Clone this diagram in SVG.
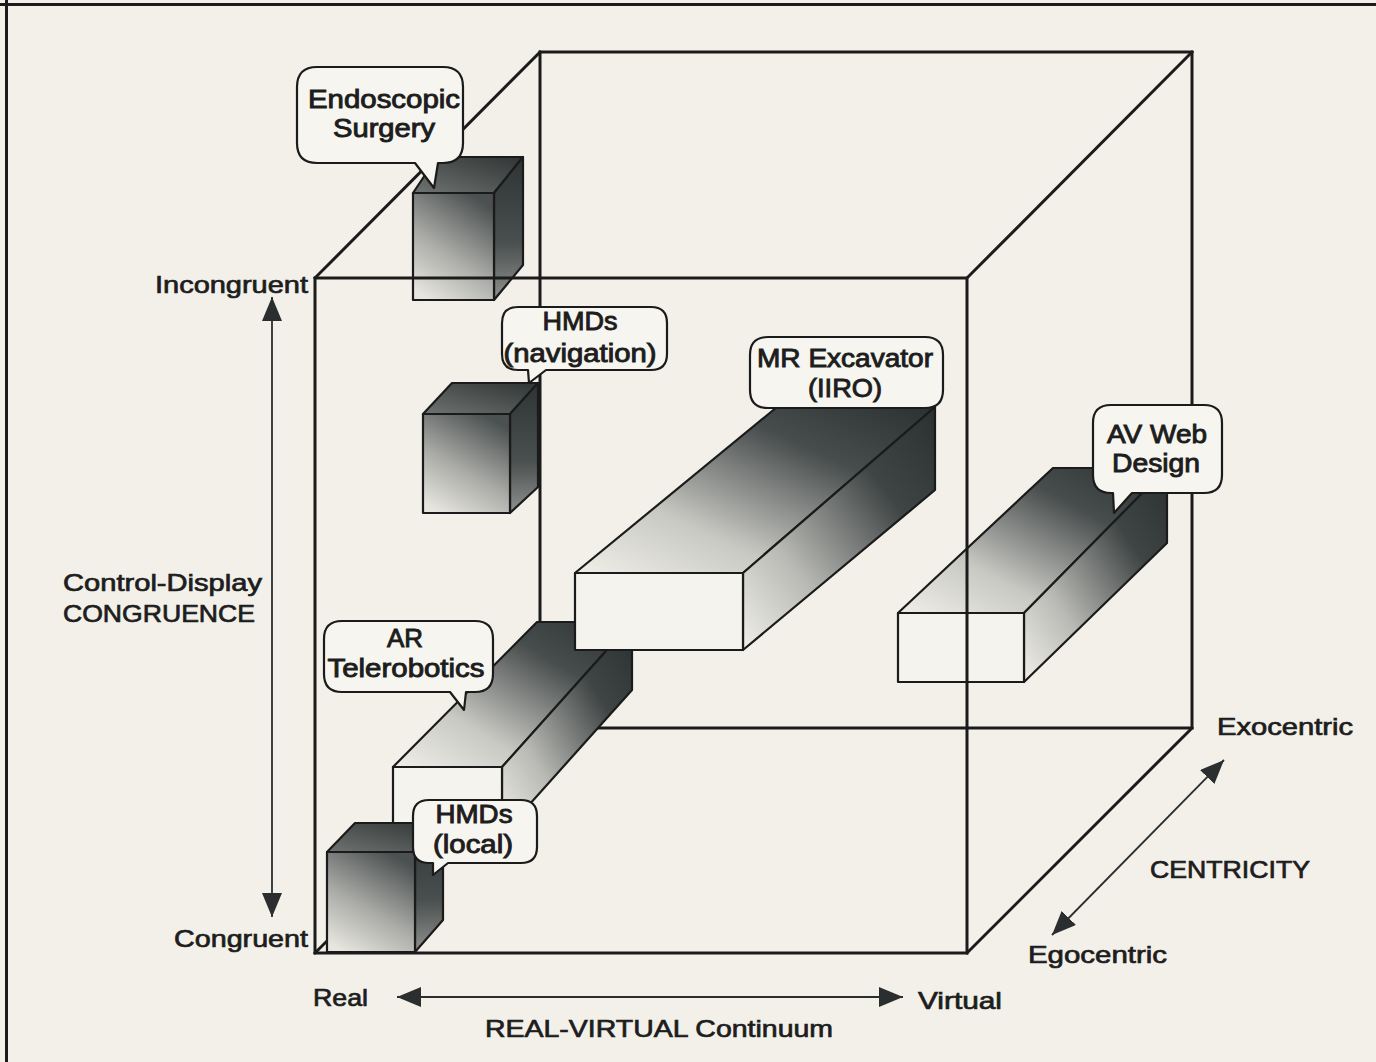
<svg xmlns="http://www.w3.org/2000/svg" width="1376" height="1062" viewBox="0 0 1376 1062">
<style>
.edge{fill:none;stroke:#1b1b1b;stroke-width:3;stroke-linecap:square}
.box{stroke:#1b1b1b;stroke-width:2.2;stroke-linejoin:round}
.bub{fill:#f6f5ef;stroke:#1b1b1b;stroke-width:2.2;stroke-linejoin:round}
.lbl{font-family:"Liberation Sans",Arial,sans-serif;font-size:25px;fill:#1d1d1d;stroke:#1d1d1d;stroke-width:0.9;text-anchor:middle}
.ax{font-family:"Liberation Sans",Arial,sans-serif;font-size:24px;fill:#1d1d1d;stroke:#1d1d1d;stroke-width:0.7}
.arr{stroke:#2a2e2e;stroke-width:1.8;fill:none}
</style>
<defs>
<marker id="ah" viewBox="0 0 24 20" refX="24" refY="10" markerWidth="24" markerHeight="20" markerUnits="userSpaceOnUse" orient="auto-start-reverse">
<path d="M0,0 L24,10 L0,20 Z" fill="#2a2e2e"/>
</marker>
<linearGradient id="cubeFront" x1="0.7" y1="0" x2="0.2" y2="1">
<stop offset="0" stop-color="#4b5050"/><stop offset="0.55" stop-color="#a9aaa6"/><stop offset="1" stop-color="#e6e5de"/>
</linearGradient>
<linearGradient id="cubeTop" x1="0" y1="1" x2="1" y2="0">
<stop offset="0" stop-color="#6f7371"/><stop offset="1" stop-color="#2f3434"/>
</linearGradient>
<linearGradient id="cubeSide" x1="0" y1="0" x2="0" y2="1">
<stop offset="0" stop-color="#2e3333"/><stop offset="0.6" stop-color="#4a4f4f"/><stop offset="1" stop-color="#8f928e"/>
</linearGradient>
<linearGradient id="barTop" x1="0" y1="1" x2="1" y2="0">
<stop offset="0" stop-color="#f0efe8"/><stop offset="0.3" stop-color="#c9c9c4"/><stop offset="0.7" stop-color="#474c4c"/><stop offset="1" stop-color="#2b3030"/>
</linearGradient>
<linearGradient id="barSide" x1="0" y1="1" x2="1" y2="0">
<stop offset="0" stop-color="#f0efe8"/><stop offset="0.3" stop-color="#b9bab5"/><stop offset="0.7" stop-color="#3f4444"/><stop offset="1" stop-color="#2b3030"/>
</linearGradient>
</defs>

<rect x="0" y="0" width="1376" height="1062" fill="#f2f0e9"/>
<g id="frame">
<line x1="0" y1="4.5" x2="1376" y2="4.5" stroke="#1b1b1b" stroke-width="3"/>
<line x1="6.5" y1="0" x2="6.5" y2="1062" stroke="#1b1b1b" stroke-width="3"/>
</g>

<g id="cube-back">
<rect class="edge" x="540" y="52" width="652" height="676"/>
<line class="edge" x1="315" y1="278" x2="540" y2="52"/>
<line class="edge" x1="967" y1="278" x2="1192" y2="52"/>
<line class="edge" x1="967" y1="953" x2="1192" y2="728"/>
<line class="edge" x1="315" y1="953" x2="540" y2="728"/>
</g>

<g id="ar-telerobotics-box">
<polygon class="box" points="393,767 502,767 632,622 537,622" fill="url(#barTop)"/>
<polygon class="box" points="502,767 632,622 632,690 502,835" fill="url(#barSide)"/>
<rect class="box" x="393" y="767" width="109" height="68" fill="#f4f3ed"/>
</g>

<g id="mr-excavator-box">
<polygon class="box" points="575,573 743,573 935,407 777,407" fill="url(#barTop)"/>
<polygon class="box" points="743,573 935,407 935,490 743,650" fill="url(#barSide)"/>
<rect class="box" x="575" y="573" width="168" height="77" fill="#f4f3ed"/>
</g>

<g id="av-web-box">
<polygon class="box" points="898,613 1024,613 1167,468 1053,468" fill="url(#barTop)"/>
<polygon class="box" points="1024,613 1167,468 1167,543 1024,682" fill="url(#barSide)"/>
<rect class="box" x="898" y="613" width="126" height="69" fill="#f4f3ed"/>
</g>

<g id="endoscopic-box">
<polygon class="box" points="413,193 494,193 523,157 437,157" fill="url(#cubeTop)"/>
<polygon class="box" points="494,193 523,157 523,265 494,300" fill="url(#cubeSide)"/>
<rect class="box" x="413" y="193" width="81" height="107" fill="url(#cubeFront)"/>
</g>

<g id="hmd-navigation-box">
<polygon class="box" points="423,414 510,414 538,383 452,383" fill="url(#cubeTop)"/>
<polygon class="box" points="510,414 538,383 538,487 510,513" fill="url(#cubeSide)"/>
<rect class="box" x="423" y="414" width="87" height="99" fill="url(#cubeFront)"/>
</g>

<g id="hmd-local-box">
<polygon class="box" points="327,852 415,852 443,823 355,823" fill="url(#cubeTop)"/>
<polygon class="box" points="415,852 443,823 443,920 415,952" fill="url(#cubeSide)"/>
<rect class="box" x="327" y="852" width="88" height="100" fill="url(#cubeFront)"/>
</g>

<g id="cube-front">
<rect class="edge" x="315" y="278" width="652" height="675"/>
</g>

<g id="bubble-endoscopic">
<path class="bub" d="M317,67 H443 Q463,67 463,87 V143 Q463,163 443,163 H438 L434,188 L415,163 H317 Q297,163 297,143 V87 Q297,67 317,67 Z"/>
<text class="lbl" x="384" y="108" textLength="152" lengthAdjust="spacingAndGlyphs">Endoscopic</text>
<text class="lbl" x="384" y="137" textLength="102" lengthAdjust="spacingAndGlyphs">Surgery</text>
</g>

<g id="bubble-hmd-navigation">
<path class="bub" d="M518,307 H651 Q667,307 667,323 V354 Q667,370 651,370 H546 L529,383 L528,370 H518 Q502,370 502,354 V323 Q502,307 518,307 Z"/>
<text class="lbl" x="580" y="330" textLength="75" lengthAdjust="spacingAndGlyphs">HMDs</text>
<text class="lbl" x="580" y="362" textLength="153" lengthAdjust="spacingAndGlyphs">(navigation)</text>
</g>

<g id="bubble-mr-excavator">
<path class="bub" d="M768,337 H925 Q943,337 943,355 V390 Q943,408 925,408 H768 Q750,408 750,390 V355 Q750,337 768,337 Z"/>
<text class="lbl" x="845" y="367" textLength="176" lengthAdjust="spacingAndGlyphs">MR Excavator</text>
<text class="lbl" x="845" y="397" textLength="74" lengthAdjust="spacingAndGlyphs">(IIRO)</text>
</g>

<g id="bubble-av-web">
<path class="bub" d="M1111,405 H1204 Q1222,405 1222,423 V475 Q1222,493 1204,493 H1132 L1114,513 L1113,493 H1111 Q1093,493 1093,475 V423 Q1093,405 1111,405 Z"/>
<text class="lbl" x="1157" y="443" textLength="100" lengthAdjust="spacingAndGlyphs">AV Web</text>
<text class="lbl" x="1156" y="472" textLength="88" lengthAdjust="spacingAndGlyphs">Design</text>
</g>

<g id="bubble-ar-telerobotics">
<path class="bub" d="M342,621 H475 Q493,621 493,639 V674 Q493,692 475,692 H466 L464,710 L450,692 H342 Q324,692 324,674 V639 Q324,621 342,621 Z"/>
<text class="lbl" x="405" y="647" textLength="36" lengthAdjust="spacingAndGlyphs">AR</text>
<text class="lbl" x="406" y="677" textLength="157" lengthAdjust="spacingAndGlyphs">Telerobotics</text>
</g>

<g id="bubble-hmd-local">
<path class="bub" d="M429,800 H521 Q537,800 537,816 V847 Q537,863 521,863 H448 L433,875 L433,863 H429 Q413,863 413,847 V816 Q413,800 429,800 Z"/>
<text class="lbl" x="474" y="823" textLength="77" lengthAdjust="spacingAndGlyphs">HMDs</text>
<text class="lbl" x="473" y="853" textLength="80" lengthAdjust="spacingAndGlyphs">(local)</text>
</g>

<g id="connectors">
<line class="arr" x1="272" y1="297" x2="272" y2="917" marker-start="url(#ah)" marker-end="url(#ah)"/>
<line class="arr" x1="397" y1="997" x2="903" y2="997" marker-start="url(#ah)" marker-end="url(#ah)"/>
<line class="arr" x1="1052" y1="935" x2="1224" y2="760" marker-start="url(#ah)" marker-end="url(#ah)"/>
</g>

<g id="axis-labels">
<text class="ax" x="308" y="293" text-anchor="end" textLength="153" lengthAdjust="spacingAndGlyphs">Incongruent</text>
<text class="ax" x="308" y="947" text-anchor="end" textLength="134" lengthAdjust="spacingAndGlyphs">Congruent</text>
<text class="ax" x="63" y="591" textLength="199" lengthAdjust="spacingAndGlyphs">Control-Display</text>
<text class="ax" x="63" y="622" textLength="192" lengthAdjust="spacingAndGlyphs">CONGRUENCE</text>
<text class="ax" x="313" y="1006" textLength="55" lengthAdjust="spacingAndGlyphs">Real</text>
<text class="ax" x="918" y="1009" textLength="84" lengthAdjust="spacingAndGlyphs">Virtual</text>
<text class="ax" x="485" y="1037" textLength="348" lengthAdjust="spacingAndGlyphs">REAL-VIRTUAL Continuum</text>
<text class="ax" x="1217" y="735" textLength="136" lengthAdjust="spacingAndGlyphs">Exocentric</text>
<text class="ax" x="1150" y="878" textLength="160" lengthAdjust="spacingAndGlyphs">CENTRICITY</text>
<text class="ax" x="1028" y="963" textLength="139" lengthAdjust="spacingAndGlyphs">Egocentric</text>
</g>
</svg>
